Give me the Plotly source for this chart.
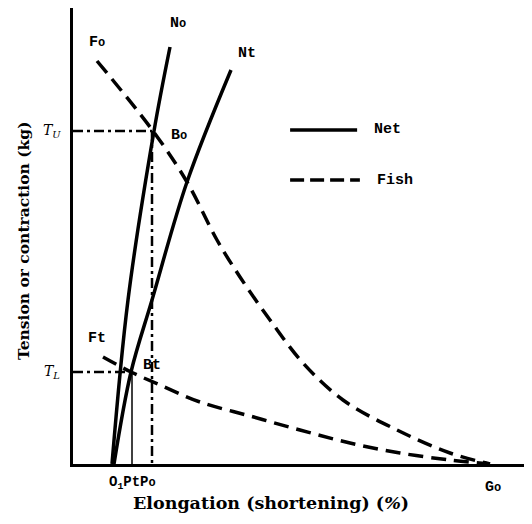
import plotly.graph_objects as go

# Net curves (elongation vs tension), arbitrary units
no_x = [3.9, 5.5, 8.1, 9.7]
no_y = [0, 16.4, 33.3, 41.7]
nt_x = [4.1, 5.8, 7.9, 11.4, 15.8]
nt_y = [0, 9.2, 16.4, 28.2, 39.4]

# Fish contraction curves
fo_x = [2.4, 8.0, 11.4, 14.4, 16.7, 19.7, 23.0, 27.0, 32.4, 37.7, 41.7]
fo_y = [40.3, 33.3, 28.2, 22.4, 18.7, 14.4, 10.1, 6.4, 3.4, 1.1, 0]
ft_x = [3.0, 5.8, 8.7, 12.7, 17.7, 22.7, 27.7, 32.7, 37.7, 41.7]
ft_y = [10.7, 9.2, 7.9, 6.2, 4.8, 3.4, 2.1, 1.1, 0.4, 0]

# balance points
t_u = 33.3
t_l = 9.2
p_o = 7.9
p_t = 5.9
g_o = 41.7

mono = "Liberation Mono"
serif = "DejaVu Serif"
small_o = "<span style='font-size:12px'>o</span>"

fig = go.Figure()

fig.add_trace(go.Scatter(x=no_x, y=no_y, mode='lines', line=dict(color='black', width=3.5, shape='spline')))
fig.add_trace(go.Scatter(x=nt_x, y=nt_y, mode='lines', line=dict(color='black', width=3.5, shape='spline')))
fig.add_trace(go.Scatter(x=fo_x, y=fo_y, mode='lines',
                         line=dict(color='black', width=3.5, dash='15px,8px', shape='spline')))
fig.add_trace(go.Scatter(x=ft_x, y=ft_y, mode='lines',
                         line=dict(color='black', width=3.5, dash='15px,8px', shape='spline')))

# dash-dot guides
dashdot = dict(color='black', width=2.5, dash='10px,4px,3px,4px')
fig.add_trace(go.Scatter(x=[0, p_o], y=[t_u, t_u], mode='lines', line=dashdot))
fig.add_trace(go.Scatter(x=[p_o, p_o], y=[t_u, 0], mode='lines', line=dashdot))
fig.add_trace(go.Scatter(x=[0, p_t], y=[t_l, t_l], mode='lines', line=dashdot))
fig.add_trace(go.Scatter(x=[p_t, p_t], y=[t_l, 0], mode='lines', line=dict(color='black', width=1.5)))

labels = [
    ("F" + small_o, 2.4, 42.2),
    ("N" + small_o, 10.5, 44.1),
    ("Nt", 17.4, 41.1),
    ("B" + small_o, 10.6, 32.9),
    ("Ft", 2.4, 12.6),
    ("Bt", 7.9, 9.9),
]
for txt, x, y in labels:
    fig.add_annotation(x=x, y=y, text=txt, showarrow=False,
                       font=dict(family=mono, size=15, color='black', weight='bold'))

fig.add_annotation(x=p_t, y=0, yshift=-19, text="O<sub>1</sub>PtP" + small_o, showarrow=False,
                   font=dict(family=mono, size=14, color='black', weight='bold'))
fig.add_annotation(x=g_o + 0.3, y=0, yshift=-23, text="G" + small_o, showarrow=False,
                   font=dict(family=mono, size=15, color='black', weight='bold'))
fig.add_annotation(x=0, y=t_u, xshift=-21, text="<i>T</i><sub><i>U</i></sub>", showarrow=False,
                   font=dict(family=serif, size=14, color='black'))
fig.add_annotation(x=0, y=t_l, xshift=-21, text="<i>T</i><sub><i>L</i></sub>", showarrow=False,
                   font=dict(family=serif, size=14, color='black'))

# legend keys
fig.add_shape(type='line', xref='paper', yref='paper', x0=0.473, x1=0.619, y0=0.7325, y1=0.7325,
              line=dict(color='black', width=3.5))
fig.add_shape(type='line', xref='paper', yref='paper', x0=0.473, x1=0.625, y0=0.6228, y1=0.6228,
              line=dict(color='black', width=3.5, dash='14px,6px'))
fig.add_annotation(xref='paper', yref='paper', x=0.651, y=0.7325, xanchor='left', yanchor='middle',
                   text="Net", showarrow=False, font=dict(family=mono, size=15, color='black', weight='bold'))
fig.add_annotation(xref='paper', yref='paper', x=0.658, y=0.6228, xanchor='left', yanchor='middle',
                   text="Fish", showarrow=False, font=dict(family=mono, size=15, color='black', weight='bold'))

# axis titles
fig.add_annotation(xref='paper', yref='paper', x=0.431, y=-0.0855, xanchor='center', yanchor='middle',
                   text="<b>Elongation (shortening) (<i>%</i>)</b>",
                   showarrow=False, font=dict(family=serif, size=17.5, color='black'))
fig.add_annotation(xref='paper', yref='paper', x=-0.109, y=0.491, xanchor='center', yanchor='middle',
                   text="<b>Tension or contraction (kg)</b>",
                   textangle=-90, showarrow=False, font=dict(family=serif, size=15.5, color='black'))

# page body keeps an 8px margin, so the figure is sized to fit inside the window
fig.update_layout(
    width=524, height=508,
    margin=dict(l=65, r=0, t=0, b=52),
    plot_bgcolor='white', paper_bgcolor='white',
    showlegend=False,
    xaxis=dict(range=[0, 45.9], showline=True, linewidth=3, linecolor='black',
               showgrid=False, zeroline=False, showticklabels=False, ticks=''),
    yaxis=dict(range=[0, 45.6], showline=True, linewidth=3, linecolor='black',
               showgrid=False, zeroline=False, showticklabels=False, ticks=''),
)

fig.write_html("out.html")
